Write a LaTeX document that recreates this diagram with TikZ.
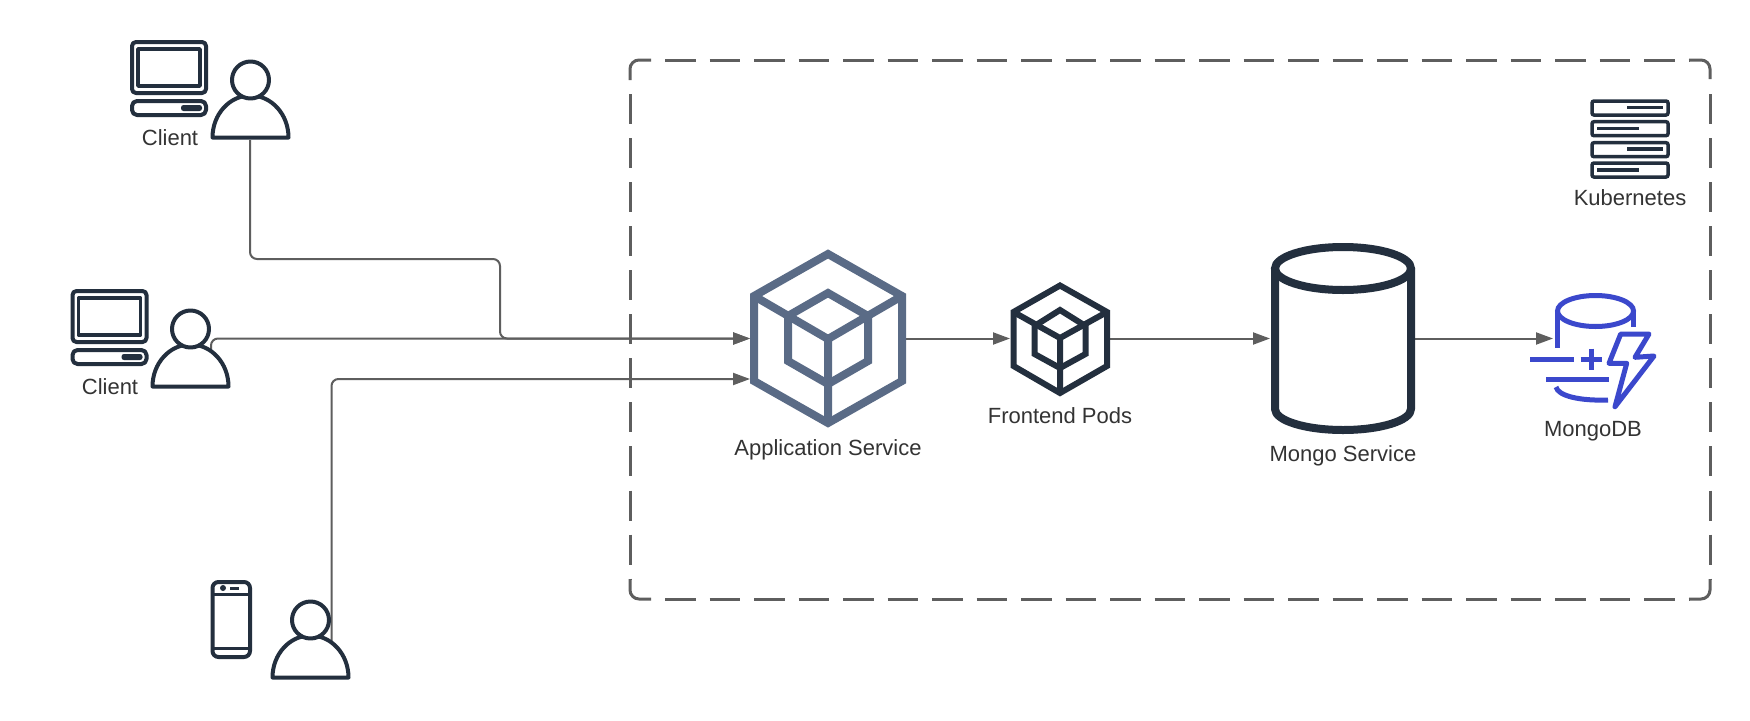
\documentclass[tikz,border=0pt]{standalone}
\usepackage{fontspec}
\setmainfont{Liberation Sans}
\usetikzlibrary{arrows.meta}
\definecolor{ink}{HTML}{232F3E}
\definecolor{slate}{HTML}{5A6B86}
\definecolor{mdb}{HTML}{3B48CC}
\definecolor{wire}{HTML}{5E5E5E}
\definecolor{txt}{HTML}{333333}
\tikzset{
  x=1pt,y=-1pt,
  wirearrow/.style={draw=wire,line width=2pt,-{Triangle[length=17pt,width=12pt,fill=wire]},rounded corners=7pt},
  lab/.style={text=txt,font=\fontsize{22}{24}\selectfont,inner sep=0pt,anchor=center},
  icon/.style={draw=ink,line width=4pt,line join=round,line cap=round,fill=none},
  pt/.style={inner sep=0pt,minimum size=0pt,outer sep=0pt},
  boxline/.style={draw=wire,line width=3pt},
  boxcorner/.style={boxline,rounded corners=9pt},
  boxh/.style={boxline,dash pattern=on 30.3pt off 14.2pt,dash phase=30.3pt},
  boxv/.style={boxline,dash pattern=on 30pt off 14.05pt,dash phase=30pt},
}
\newcommand{\personicon}[2]{%
  \begin{scope}[shift={(#1,#2)}]
    \draw[icon,fill=white] (-38,0) arc[start angle=180,end angle=360,x radius=38,y radius=42] -- cycle;
    \draw[icon,fill=white] (0,-57.5) circle[radius=18.5];
  \end{scope}}
\newcommand{\computericon}[2]{%
  \begin{scope}[shift={(#1,#2)}]
    \draw[icon,rounded corners=4pt] (2,2) rectangle (76,53);
    \draw[icon,line width=3.5pt] (8,9) rectangle (70,46);
    \draw[icon,rounded corners=5pt] (2,61) rectangle (76,75);
    \fill[ink,rounded corners=2.5pt] (51,65) rectangle (72,71);
  \end{scope}}
\begin{document}
\begin{tikzpicture}
\useasboundingbox (0,0) rectangle (1750,720);
\fill[white] (0,0) rectangle (1750,720);

% Kubernetes boundary
\node[pt,minimum width=1080pt,minimum height=539pt,anchor=north west] (k8s) at (630,60) {};
\draw[boxcorner] (630,80) -- (630,60) -- (651,60);
\draw[boxcorner] (1689,60) -- (1710,60) -- (1710,79);
\draw[boxcorner] (1710,579) -- (1710,599) -- (1689,599);
\draw[boxcorner] (651,599) -- (630,599) -- (630,579);
\draw[boxh] (651,60) -- (1689,60);
\draw[boxh] (651,599) -- (1689,599);
\draw[boxv] (630,80) -- (630,579);
\draw[boxv] (1710,80) -- (1710,579);

% anchors
\coordinate (appW) at (750,338.5);
\coordinate (appWlow) at (750,379);
\coordinate (appE) at (906,338.5);
\coordinate (podW) at (1010,338.5);
\coordinate (podE) at (1110,338.5);
\coordinate (svcW) at (1270,338.5);
\coordinate (svcE) at (1415,338.5);
\coordinate (dbW) at (1553,338.5);
\coordinate (c1) at (250,140);
\coordinate (c2) at (211,350);
\coordinate (c3) at (331.5,645);

% connectors
\draw[wirearrow] (c1) |- (500,259) |- (appW);
\draw[wirearrow] (c2) |- (appW);
\draw[wirearrow] (c3) |- (appWlow);
\draw[wirearrow] (appE) -- (podW);
\draw[wirearrow] (podE) -- (svcW);
\draw[wirearrow] (svcE) -- (dbW);

% clients
\computericon{130}{40}
\personicon{250.5}{137.5}
\node[lab] (client1) at (170,138) {Client};
\computericon{70.5}{289}
\personicon{190.5}{386.5}
\node[lab] (client2) at (110,387) {Client};
% phone
\draw[icon,rounded corners=6pt] (212.5,582) rectangle (250,657);
\draw[icon,line width=3pt,line cap=butt] (212.5,594) -- (250,594) (212.5,648) -- (250,648);
\fill[ink] (223,588) circle[radius=3];
\draw[icon,line width=3pt,line cap=butt] (230,588) -- (239,588);
\personicon{310.5}{677.5}

% Application Service
\draw[draw=slate,line width=8pt,miter limit=10]
  (828,254) -- (902,296) -- (902,381) -- (828,423) -- (754,381) -- (754,296) -- cycle;
\draw[draw=slate,line width=8pt,line join=miter]
  (754,296) -- (828,339) -- (902,296) (828,339) -- (828,423);
\draw[draw=slate,line width=8pt]
  (828,293) -- (868,316) -- (868,361) -- (828,384) -- (788,361) -- (788,316) -- cycle;
\node[lab] (appsvc) at (828,450) {Application Service};

% Frontend Pods
\draw[draw=ink,line width=6pt]
  (1060,285.5) -- (1107,312) -- (1107,366) -- (1060,393) -- (1013.5,366) -- (1013.5,312) -- cycle;
\draw[draw=ink,line width=6pt]
  (1013.5,312) -- (1060,338) -- (1107,312) (1060,338) -- (1060,393);
\draw[draw=ink,line width=6pt]
  (1060,310) -- (1085.5,326) -- (1085.5,354) -- (1060,368) -- (1034.5,354) -- (1034.5,326) -- cycle;
\node[lab] (pods) at (1060,416) {Frontend Pods};

% Mongo Service
\draw[draw=ink,line width=8pt,line join=round]
  (1275,268.5) -- (1275,409) arc[start angle=180,end angle=0,x radius=68,y radius=21] -- (1411,268.5);
\draw[draw=ink,line width=8pt] (1343,268.5) ellipse[x radius=68,y radius=21.5];
\node[lab] (mongosvc) at (1343,456) {Mongo Service};

% MongoDB
\begin{scope}[draw=mdb,line width=5pt]
  \draw (1595.5,311) ellipse[x radius=38,y radius=15.5];
  \draw (1557.5,311) -- (1557.5,348);
  \draw (1633.5,311) -- (1633.5,327);
  \draw (1530,359) -- (1574,359);
  \draw (1580.5,359) -- (1601.5,359) (1591,348.5) -- (1591,369.5);
  \draw (1546,379) -- (1609,379);
  \draw (1556,387) .. controls (1558,396) and (1580,401) .. (1608,400);
  \draw[line join=round] (1620.7,334) -- (1649,334) -- (1635,357.3) -- (1654,356) -- (1615,406.7) -- (1626.7,363.3) -- (1609,363.3) -- cycle;
\end{scope}
\node[lab] (mongodb) at (1593,431) {MongoDB};

% Kubernetes icon
\foreach \t/\a/\b/\m in {100/1627/1663/107.7,120.7/1597/1639/128.3,141.7/1627/1663/149.2,162/1597/1639/170}{
  \draw[draw=ink,line width=3.5pt,rounded corners=2pt] (1592,\t+1) rectangle (1668,\t+15);
  \draw[draw=ink,line width=3.5pt] (\a,\m) -- (\b,\m);
}
\node[lab] (k8slabel) at (1630,198) {Kubernetes};
\end{tikzpicture}
\end{document}
